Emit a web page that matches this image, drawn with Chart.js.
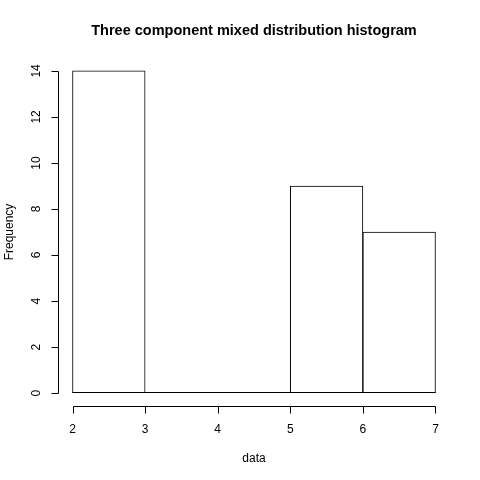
<!DOCTYPE html>
<html>
<head>
<meta charset="utf-8">
<script src="https://cdn.jsdelivr.net/npm/chart.js@4"></script>
<style>
  body { margin: 0; background: #fff; }
  #wrap { width: 480px; height: 480px; }
</style>
</head>
<body>
<div id="wrap"><canvas id="hist"></canvas></div>
<script>
const titleText = "Three component mixed distribution histogram";
const xLabel = "data";
const yLabel = "Frequency";
const binEdges = [2, 3, 4, 5, 6, 7];
const counts = [14, 0, 0, 9, 7];
const xTicks = [2, 3, 4, 5, 6, 7];
const yTicks = [0, 2, 4, 6, 8, 10, 12, 14];

// bars sit at the bin centres
const barData = counts.map((c, i) => ({ x: (binEdges[i] + binEdges[i + 1]) / 2, y: c }));

// R-style axes, labels and title
const rAxes = {
    id: "rAxes",
    afterDatasetsDraw(chart) {
        const ctx = chart.ctx;
        const xs = chart.scales.x, ys = chart.scales.y;
        const area = chart.chartArea;
        const axisY = Math.round(area.bottom) + 0.5;
        const axisX = Math.round(area.left) + 0.5;
        const tick = 7;
        ctx.save();
        ctx.strokeStyle = "#000";
        ctx.lineWidth = 1;

        // baseline along the bottom of all bins (empty ones included)
        const y0 = Math.round(ys.getPixelForValue(0)) - 0.5;
        ctx.beginPath();
        ctx.moveTo(xs.getPixelForValue(binEdges[0]), y0);
        ctx.lineTo(xs.getPixelForValue(binEdges[binEdges.length - 1]), y0);
        ctx.stroke();

        // x axis
        ctx.beginPath();
        ctx.moveTo(Math.round(xs.getPixelForValue(xTicks[0])) + 0.5, axisY);
        ctx.lineTo(Math.round(xs.getPixelForValue(xTicks[xTicks.length - 1])) + 0.5, axisY);
        xTicks.forEach(v => {
            const px = Math.round(xs.getPixelForValue(v)) + 0.5;
            ctx.moveTo(px, axisY);
            ctx.lineTo(px, axisY + tick);
        });
        ctx.stroke();

        // y axis
        ctx.beginPath();
        ctx.moveTo(axisX, Math.round(ys.getPixelForValue(yTicks[0])) + 0.5);
        ctx.lineTo(axisX, Math.round(ys.getPixelForValue(yTicks[yTicks.length - 1])) + 0.5);
        yTicks.forEach(v => {
            const py = Math.round(ys.getPixelForValue(v)) + 0.5;
            ctx.moveTo(axisX, py);
            ctx.lineTo(axisX - tick, py);
        });
        ctx.stroke();

        ctx.fillStyle = "#000";
        ctx.font = "12px 'Liberation Sans', Arial, sans-serif";
        ctx.textAlign = "center";
        ctx.textBaseline = "middle";
        xTicks.forEach(v => {
            ctx.fillText(String(v), xs.getPixelForValue(v), axisY + 23);
        });
        yTicks.forEach(v => {
            ctx.save();
            ctx.translate(axisX - 22, ys.getPixelForValue(v));
            ctx.rotate(-Math.PI / 2);
            ctx.fillText(String(v), 0, 0);
            ctx.restore();
        });

        const midX = (area.left + area.right) / 2;
        const midY = (area.top + area.bottom) / 2;
        ctx.fillText(xLabel, midX, axisY + 52);
        ctx.save();
        ctx.translate(10, midY);
        ctx.rotate(-Math.PI / 2);
        ctx.fillText(yLabel, 0, 0);
        ctx.restore();

        ctx.font = "bold 14.5px 'Liberation Sans', Arial, sans-serif";
        ctx.fillText(titleText, midX, 31);
        ctx.restore();
    }
};

new Chart(document.getElementById("hist"), {
    type: "bar",
    data: {
        datasets: [{
            data: barData,
            backgroundColor: "#ffffff",
            borderColor: "#000000",
            borderWidth: 1,
            borderSkipped: "start",
            barPercentage: 1,
            categoryPercentage: 1
        }]
    },
    options: {
        responsive: true,
        maintainAspectRatio: false,
        animation: false,
        layout: { padding: { left: 58, right: 30, top: 58, bottom: 74 } },
        plugins: { legend: { display: false }, tooltip: { enabled: false }, title: { display: false } },
        scales: {
            x: { type: "linear", min: 1.8, max: 7.2, display: false, offset: false },
            y: { type: "linear", min: -0.56, max: 14.56, display: false }
        }
    },
    plugins: [rAxes]
});
</script>
</body>
</html>
